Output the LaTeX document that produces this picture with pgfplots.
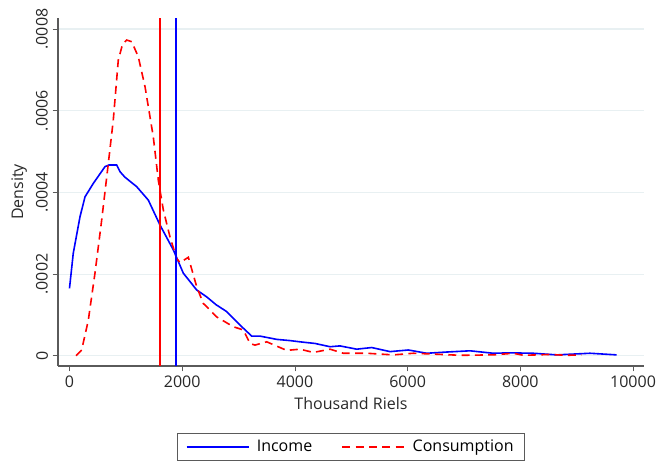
\documentclass[border=0pt]{standalone}
\usepackage{pgfplots}
\pgfplotsset{compat=1.18}
\usepackage{fontspec}
\setmainfont{Open Sans}

\definecolor{gridc}{RGB}{232,240,242}
\definecolor{axisc}{RGB}{90,90,90}
\definecolor{txtc}{RGB}{40,40,40}

\begin{document}
\begin{tikzpicture}
\useasboundingbox (-43.5pt,-78pt) rectangle (450.75pt,274.5pt);
\begin{axis}[
	at={(0,0)}, anchor=south west,
	scale only axis,
	width=439.5pt, height=261pt,
	xmin=-204, xmax=10195,
	ymin=-0.0000252, ymax=0.000827,
	axis lines=left,
	axis line style={-, color=axisc, line width=0.8pt},
	tick align=outside,
	tick pos=left,
	major tick length=4pt,
	tick style={color=axisc, line width=0.6pt},
	xtick={0,2000,4000,6000,8000,10000},
	ytick={0,0.0002,0.0004,0.0006,0.0008},
	yticklabels={0,.0002,.0004,.0006,.0008},
	scaled x ticks=false,
	scaled y ticks=false,
	/pgf/number format/assume math mode=true,
	xticklabel={\pgfmathprintnumber[fixed,1000 sep={}]{\tick}},
	ticklabel style={font=\fontsize{12}{14}\selectfont, text=txtc},
	yticklabel style={rotate=90, anchor=south},
	ymajorgrids,
	y grid style={gridc, line width=0.8pt},
	xlabel={Thousand Riels},
	ylabel={Density},
	label style={font=\fontsize{12}{14}\selectfont, text=txtc},
	legend columns=2,
	legend style={
		at={(0.5,-0.1925)}, anchor=north,
		draw=axisc, line width=0.6pt,
		font=\fontsize{12}{14}\selectfont,
		/tikz/every even column/.append style={column sep=20pt},
		inner xsep=6pt, inner ysep=3pt
	},
	legend image code/.code={\draw[#1] (0pt,0pt) -- (47pt,0pt);},
]
\addlegendimage{blue, line width=1.2pt}
\addlegendentry{~Income}
\addlegendimage{red, line width=1.2pt, dash pattern=on 6pt off 4pt}
\addlegendentry{~Consumption}
\addplot [blue, line width=1.2pt, forget plot] table {%
0 0.000165
67 0.000251
186 0.00034
275 0.000389
423 0.000422
630 0.000463
700 0.000467
837 0.000467
900 0.000450
985 0.000437
1192 0.000414
1399 0.000381
1606 0.00032
1843 0.000259
2020 0.000202
2257 0.000161
2435 0.000144
2600 0.000125
2790 0.000108
3026 0.000075
3233 0.000048
3381 0.000048
3677 0.00004
3913 0.000037
4090 0.000034
4357 0.00003
4623 0.000022
4800 0.000024
5097 0.000016
5363 0.00002
5688 0.00001
6013 0.000014
6339 0.000006
6694 0.000009
7108 0.000012
7521 0.000006
7817 0.000007
8231 0.000006
8645 0.000002
9237 0.000006
9710 0.000002
};
\addplot [red, line width=1.2pt, dash pattern=on 6pt off 4pt, forget plot] table {%
115 0.0
216 0.000014
334 0.000087
452 0.000202
571 0.000332
689 0.000471
777 0.000577
866 0.000724
940 0.000762
1015 0.000773
1104 0.000769
1221 0.000732
1340 0.000659
1487 0.000536
1576 0.00043
1665 0.000357
1783 0.000291
1902 0.000238
1961 0.000228
2109 0.000241
2257 0.000169
2374 0.000128
2435 0.00012
2612 0.000095
2907 0.000071
3084 0.000063
3203 0.00003
3292 0.000026
3500 0.000034
3854 0.000013
4090 0.000016
4327 0.000008
4623 0.000016
4859 0.000006
5274 0.000006
5746 0.000002
6101 0.000006
6456 0.000004
6930 0.000001
7521 0.000002
7876 0.000006
8053 0.000001
8527 0.000003
8823 0.000001
9089 0.000002
};
\addplot [red, line width=1pt, forget plot] coordinates {(1606,-0.0000252) (1606,0.000827)};
\addplot [blue, line width=1pt, forget plot] coordinates {(1890,-0.0000252) (1890,0.000827)};
\end{axis}
\end{tikzpicture}
\end{document}
